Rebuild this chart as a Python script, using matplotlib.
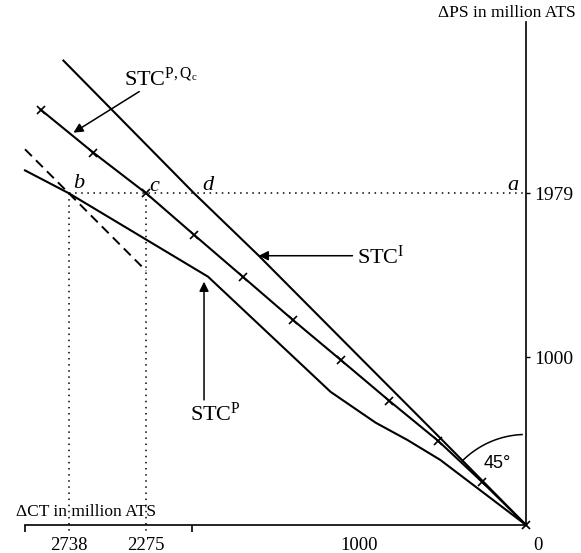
import numpy as np
import matplotlib
matplotlib.use("Agg")
import matplotlib.pyplot as plt
from matplotlib.transforms import ScaledTranslation

plt.rcParams['font.family'] = ['Liberation Serif', 'DejaVu Serif']
plt.rcParams['mathtext.fontset'] = 'custom'
plt.rcParams['mathtext.rm'] = 'Liberation Serif'
plt.rcParams['mathtext.it'] = 'Liberation Serif:italic'

# curves (x = delta CT, y = delta PS, million ATS)
stc_i_x = [0, 500, 1000, 1600, 1988, 2770]
stc_i_y = [0, 505, 1005, 1606, 1979, 2770]

stc_pq_x = [0, 263, 525, 818, 1110, 1397, 1696, 1988, 2275, 2591, 2907]
stc_pq_y = [0, 257, 501, 740, 985, 1224, 1481, 1731, 1979, 2221, 2478]

stc_p_x = [0, 513, 710, 900, 1170, 1904, 2738, 3000]
stc_p_y = [0, 388, 507, 610, 794, 1481, 1979, 2115]

dash_x = [3000, 2275]
b_point = (2738, 1979)
c_point = (2275, 1979)

xtick_labels = ['2738', '2275', '1000']
xtick_vals = [2738, 2275, 1000]
xtick_marks = [3000, 2000, 1000]
ytick_vals = [1000, 1979]

fig = plt.figure(figsize=(5.81, 5.53), dpi=100)
ax = fig.add_axes([25/581, 28/553, 501/581, 503/553])
ax.set_xlim(3000, 0)
ax.set_ylim(0, 3000)

for s in ['left', 'top']:
    ax.spines[s].set_visible(False)
ax.spines['right'].set_linewidth(1.2)
ax.spines['bottom'].set_linewidth(1.2)

ax.yaxis.tick_right()
ax.set_yticks(ytick_vals)
ax.set_yticklabels([str(v) for v in ytick_vals], fontsize=14)
ax.tick_params(axis='y', direction='out', length=3, width=1, pad=3)

ax.set_xticks(xtick_vals)
ax.set_xticklabels(xtick_labels, fontsize=13.5)
ax.set_xticks(xtick_marks, minor=True)
ax.tick_params(axis='x', which='major', length=0, pad=9)
ax.tick_params(axis='x', which='minor', length=5, width=1.2, direction='out')

# zero label, a bit to the right of the origin
ax.text(0, 0, '0', fontsize=13.5, ha='center', va='top',
        transform=ax.transData + ScaledTranslation(12/100, -12.5/100, fig.dpi_scale_trans),
        clip_on=False)

lw = 1.5
ax.plot(stc_i_x, stc_i_y, color='black', lw=lw, clip_on=False)
ax.plot(stc_pq_x, stc_pq_y, color='black', lw=lw, marker='x', ms=6, mew=1.2, clip_on=False)
ax.plot(stc_p_x, stc_p_y, color='black', lw=lw, clip_on=False)

# dashed 45 degree line through b
dash_y = [b_point[1] + (x - b_point[0]) for x in dash_x]
ax.plot(dash_x, dash_y, color='black', lw=1.4, ls=(0, (5, 3)), clip_on=False)

# dotted guides
dot = dict(color='black', lw=1.1, ls=(0, (1, 3)), clip_on=False)
ax.plot([b_point[0], 0], [b_point[1], b_point[1]], **dot)
ax.plot([b_point[0], b_point[0]], [b_point[1], -50], **dot)
ax.plot([c_point[0], c_point[0]], [c_point[1], -50], **dot)

# point letters
lett = dict(fontsize=16, style='italic', ha='center', va='center')
ax.text(2681, 2035, 'b', **lett)
ax.text(2227, 2020, 'c', **lett)
ax.text(1905, 2025, 'd', **lett)
ax.text(78, 2025, 'a', **lett)

# curve labels with arrows
arr = dict(arrowstyle='-|>', color='black', lw=1.1, mutation_scale=14, shrinkA=0, shrinkB=0)
ax.annotate('', xy=(2710, 2340), xytext=(2316, 2585), arrowprops=arr)
ax.text(2406, 2660, r'STC$^{\mathrm{P,Q_c}}$', fontsize=16, ha='left', va='center')

ax.annotate('', xy=(1600, 1606), xytext=(1039, 1606), arrowprops=arr)
ax.text(1010, 1600, r'STC$^{\mathrm{I}}$', fontsize=16, ha='left', va='center')

ax.annotate('', xy=(1928, 1451), xytext=(1928, 746), arrowprops=arr)
ax.text(2010, 660, r'STC$^{\mathrm{P}}$', fontsize=16, ha='left', va='center')

# 45 degree arc
r = 540
th = np.radians(np.linspace(2.5, 45, 40))
ax.plot(r*np.sin(th), r*np.cos(th), color='black', lw=1.1, clip_on=False)
ax.text(173, 364, '45°', fontsize=13, family='Liberation Sans', ha='center', va='center')

# axis titles
ax.text(3051, 78, 'ΔCT in million ATS', fontsize=12.5, ha='left', va='center', clip_on=False)
ax.text(113, 3055, 'ΔPS in million ATS', fontsize=12.5, ha='center', va='center', clip_on=False)

fig.savefig('out.png', dpi=100)
